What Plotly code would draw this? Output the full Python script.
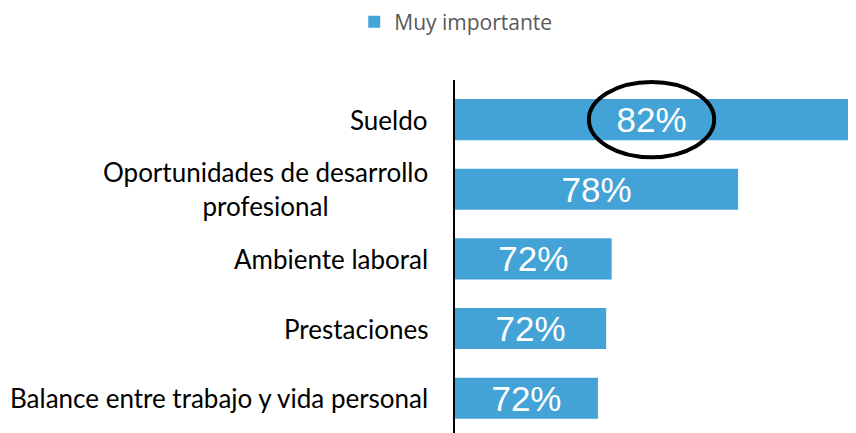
import plotly.graph_objects as go

categories = ["Sueldo", "Oportunidades de desarrollo<br>profesional", "Ambiente laboral",
              "Prestaciones", "Balance entre trabajo y vida personal"]
values = [82.0, 78.0, 73.4, 73.2, 72.9]
labels = ["82%", "78%", "72%", "72%", "72%"]
series_name = "Muy importante"
x_range = [67.7, 82.07]

BLUE = "#43A3D7"

fig = go.Figure()
fig.add_trace(go.Bar(
    y=categories, x=[v - x_range[0] for v in values], base=x_range[0], orientation="h",
    name=series_name, marker=dict(color=BLUE, line=dict(width=0)),
    text=labels, textposition="inside", insidetextanchor="middle",
    constraintext="none",
    textfont=dict(family="Liberation Sans", size=35, color="white"),
    showlegend=True,
))

for c in categories:
    fig.add_annotation(xref="paper", yref="y", x=0, y=c, xshift=-25,
                       xanchor="right", align="center", showarrow=False,
                       text=c, font=dict(family="Lato", size=26, color="black"))

# highlight ellipse around the top label
mid = (x_range[0] + values[0]) / 2
fig.add_shape(type="circle", xref="x", yref="y",
              x0=mid - 2.28, x1=mid + 2.28, y0=-0.54, y1=0.54,
              line=dict(color="black", width=4))

fig.update_layout(
    width=848, height=425,
    margin=dict(l=447, r=6, t=72, b=0, autoexpand=False),
    paper_bgcolor="white", plot_bgcolor="white",
    bargap=0.41,
    showlegend=True,
    legend=dict(orientation="h", xref="container", yref="paper",
                x=0.528, y=1.164, xanchor="center", yanchor="middle",
                font=dict(family="Open Sans", size=21, color="#595959")),
    xaxis=dict(range=x_range, visible=False, showgrid=False, zeroline=False, fixedrange=True),
    yaxis=dict(autorange="reversed", showticklabels=False, ticks="",
               showline=True, linecolor="black", linewidth=2, showgrid=False,
               zeroline=False),
)
fig.write_html("out.html")
